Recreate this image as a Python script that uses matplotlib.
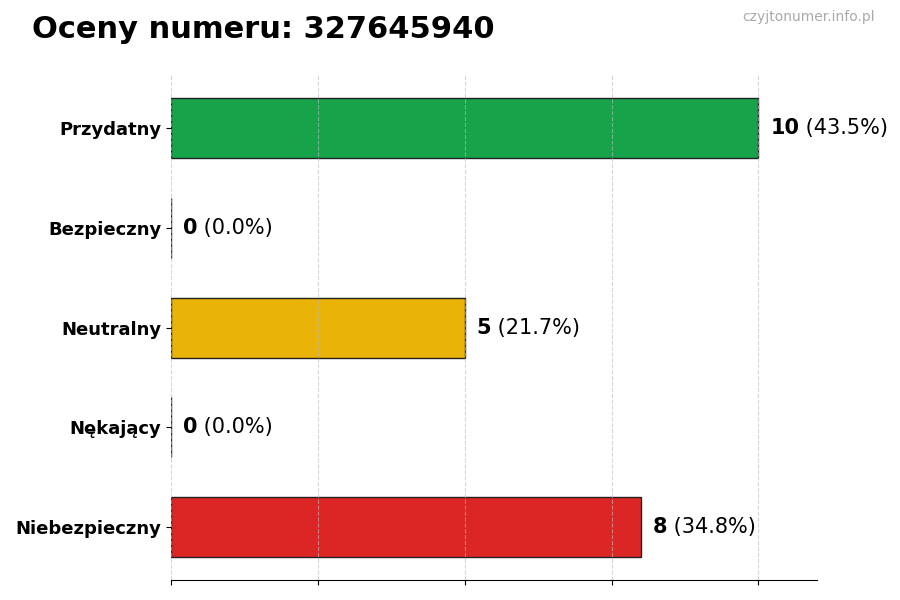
import matplotlib.pyplot as plt
from matplotlib.transforms import offset_copy

# data
categories = ["Przydatny", "Bezpieczny", "Neutralny", "Nękający", "Niebezpieczny"]
counts = [10, 0, 5, 0, 8]
colors = ["#16a34a", "#16a34a", "#eab308", "#dc2626", "#dc2626"]
total = sum(counts)

fig = plt.figure(figsize=(9, 6), dpi=100)
ax = fig.add_axes([0.19, 0.033, 0.718, 0.842])

ypos = list(range(len(categories)))
ax.barh(ypos, counts, height=0.6, color=colors, edgecolor="#222222", linewidth=1, zorder=1)
ax.set_yticks(ypos)
ax.set_yticklabels(categories, fontsize=13, fontweight="bold")
ax.invert_yaxis()
ax.set_xlim(0, 11)
ax.set_xticks([0, 2.5, 5, 7.5, 10])
ax.set_xticklabels([])
ax.grid(axis="x", linestyle="--", color="#bbbbbb", alpha=0.6, zorder=2)
for s in ["top", "right", "left"]:
    ax.spines[s].set_visible(False)

# value labels: bold count, then normal percent right after it
fig.canvas.draw()
for y, c in zip(ypos, counts):
    pct = c / total * 100
    t = ax.text(c + 0.2, y, str(c), fontsize=15, fontweight="bold", va="center", ha="left")
    w = t.get_window_extent(renderer=fig.canvas.get_renderer()).width
    tr = offset_copy(ax.transData, fig=fig, x=w * 72 / fig.dpi, y=0, units="points")
    ax.text(c + 0.2, y, f" ({pct:.1f}%)", fontsize=15, va="center", ha="left", transform=tr)

fig.text(0.035, 0.95, "Oceny numeru: 327645940", fontsize=22, fontweight="bold", va="center")
fig.text(0.972, 0.972, "czyjtonumer.info.pl", fontsize=10, color="#aaaaaa", ha="right", va="center")

plt.savefig("out.png", dpi=100)
